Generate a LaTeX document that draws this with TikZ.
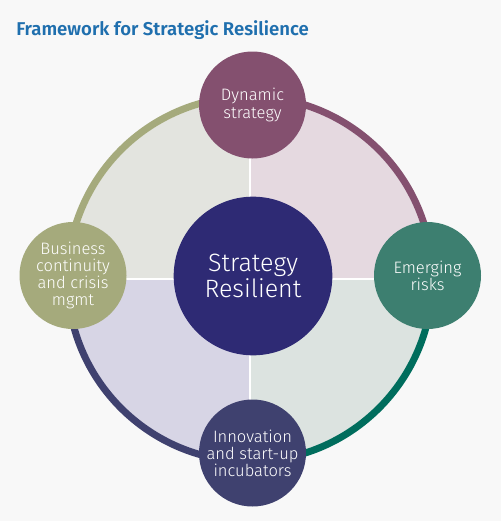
\documentclass[tikz,border=0pt]{standalone}
\usepackage{fontspec}
\setmainfont{Fira Sans}[UprightFont=* Light, BoldFont=* SemiBold]
\usepackage{xcolor}
\usepackage{tikz}
\usetikzlibrary{calc}
\usetikzlibrary{arrows.meta}
\usetikzlibrary{shapes}
\usetikzlibrary{positioning}
\tikzset{>=latex}

\definecolor{bgcol}{HTML}{F8F8F8}
\definecolor{titleblue}{HTML}{1F6FAE}
\definecolor{olivec}{HTML}{A5AA7C}
\definecolor{plumc}{HTML}{84506F}
\definecolor{tealring}{HTML}{006D5D}
\definecolor{tealc}{HTML}{3D7F70}
\definecolor{navyc}{HTML}{3F416F}
\definecolor{corec}{HTML}{2E2A74}
\definecolor{qtl}{HTML}{E3E4DF}
\definecolor{qtr}{HTML}{E5D9E0}
\definecolor{qbl}{HTML}{D7D5E5}
\definecolor{qbr}{HTML}{DCE3E0}

\tikzstyle{pillar} = [circle, inner sep = 0, minimum size = 80.25pt, text = white, align = center, font = \fontsize{12.4}{12.8}\selectfont]
\tikzstyle{ring} = [line width = 5.25pt]
\tikzstyle{split} = [white, line width = 1.1pt]

\begin{document}
\begin{tikzpicture}[x = 0.75pt, y = -0.75pt]
\useasboundingbox (0, 0) rectangle (501, 521);
\fill [bgcol] (0, 0) rectangle (501, 521);
\node [anchor = base west, inner sep = 0, text = titleblue, font = \fontsize{13.9}{16}\selectfont\bfseries] (title) at (16, 35) {Framework for Strategic Resilience};
\coordinate (O) at (250, 279);
% quarters
\fill [qtl] (O) -- ++(180:179) arc (180:270:179) -- cycle;
\fill [qtr] (O) -- ++(270:179) arc (270:360:179) -- cycle;
\fill [qbr] (O) -- ++(0:179) arc (0:90:179) -- cycle;
\fill [qbl] (O) -- ++(90:179) arc (90:180:179) -- cycle;
\draw [split] ($(O) + (0, -180)$) -- ($(O) + (0, 180)$);
\draw [split] ($(O) + (-180, 0)$) -- ($(O) + (180, 0)$);
% ring
\draw [ring, olivec] ($(O) + (180:182.5)$) arc (180:270:182.5);
\draw [ring, plumc] ($(O) + (270:182.5)$) arc (270:360:182.5);
\draw [ring, tealring] ($(O) + (0:182.5)$) arc (0:90:182.5);
\draw [ring, navyc] ($(O) + (90:182.5)$) arc (90:180:182.5);
% nodes
\node [circle, inner sep = 0, minimum size = 119pt, fill = corec, text = white, align = center, font = \fontsize{18.8}{19.5}\selectfont] (core) at (253, 276) {\raisebox{-3pt}{\parbox{3cm}{\centering Strategy\\Resilient}}};
\node [pillar, fill = plumc] (dyn) at (252.5, 105) {Dynamic\\strategy};
\node [pillar, fill = tealc] (emr) at (427.5, 275.5) {Emerging\\risks};
\node [pillar, fill = navyc] (inn) at (252.5, 453) {Innovation\\and start-up\\incubators};
\node [pillar, fill = olivec] (bcm) at (73, 275.5) {Business\\continuity\\and crisis\\mgmt};
\end{tikzpicture}
\end{document}
